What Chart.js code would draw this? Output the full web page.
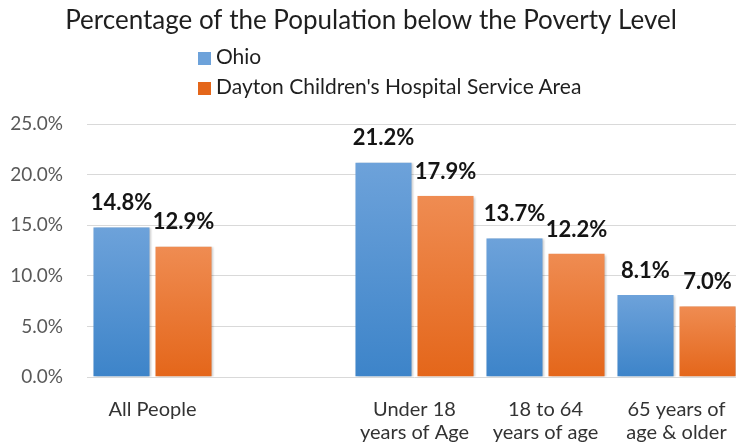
<!DOCTYPE html>
<html>
<head>
<meta charset="utf-8">
<script src="https://cdn.jsdelivr.net/npm/chart.js@4"></script>
<style>
  html, body { margin: 0; padding: 0; background: #fff; overflow: hidden; }
  #wrap { position: relative; width: 760px; height: 446px; }
  #legend { position: absolute; left: 198px; top: 45px; font: 21px Lato, sans-serif; color: #1f1f1f; }
  #legend div { height: 30px; line-height: 22px; white-space: nowrap; }
  #legend span { display: inline-block; width: 13px; height: 13px; margin-right: 5px; vertical-align: -1px; }
</style>
</head>
<body>
<div id="wrap">
  <canvas id="povertyChart" width="760" height="446"></canvas>
  <div id="legend"></div>
</div>
<script>
const categories = ["All People", "", ["Under 18", "years of Age"], ["18 to 64", "years of age"], ["65 years of", "age & older"]];
const seriesNames = ["Ohio", "Dayton Children's Hospital Service Area"];
const ohioValues = [14.8, null, 21.2, 13.7, 8.1];
const daytonValues = [12.9, null, 17.9, 12.2, 7.0];
const yTicks = [0, 5, 10, 15, 20, 25];

// top / bottom shades of each bar's gradient
const blueShades = ["#6da2da", "#3d84c9"];
const orangeShades = ["#ef8c52", "#e4661a"];

function barFill(shades) {
    return (ctx) => {
        const chart = ctx.chart;
        if (!chart.chartArea || !ctx.parsed || ctx.parsed.y == null) return shades[1];
        const y = chart.scales.y;
        const g = chart.ctx.createLinearGradient(0, y.getPixelForValue(ctx.parsed.y), 0, y.getPixelForValue(0));
        g.addColorStop(0, shades[0]);
        g.addColorStop(1, shades[1]);
        return g;
    };
}

// soft shadow behind the bars
const barShadow = {
    id: "barShadow",
    beforeDatasetsDraw(chart) {
        const c = chart.ctx;
        c.save();
        c.shadowColor = "rgba(0,0,0,0.28)";
        c.shadowBlur = 3;
        c.shadowOffsetX = 1.5;
        c.shadowOffsetY = 1;
    },
    afterDatasetsDraw(chart) {
        chart.ctx.restore();
    }
};

// value labels above each bar
const valueLabels = {
    id: "valueLabels",
    afterDatasetsDraw(chart) {
        const c = chart.ctx;
        c.save();
        c.font = "bold 22px Lato, sans-serif";
        c.fillStyle = "#141414";
        c.textAlign = "center";
        c.textBaseline = "alphabetic";
        chart.data.datasets.forEach((ds, i) => {
            chart.getDatasetMeta(i).data.forEach((el, j) => {
                const v = ds.data[j];
                if (v == null) return;
                c.fillText(v.toFixed(1) + "%", el.x, el.y - 17);
            });
        });
        c.restore();
    }
};

const chart = new Chart(document.getElementById("povertyChart"), {
    type: "bar",
    data: {
        labels: categories,
        datasets: [
            { label: seriesNames[0], data: ohioValues, backgroundColor: barFill(blueShades) },
            { label: seriesNames[1], data: daytonValues, backgroundColor: barFill(orangeShades) }
        ]
    },
    options: {
        responsive: false,
        animation: false,
        layout: { padding: { top: 0, right: 18, bottom: 0, left: 0 } },
        datasets: {
            bar: {
                categoryPercentage: 0.947,
                barPercentage: 1,
                borderWidth: { left: 3, right: 3, top: 0, bottom: 0 },
                borderColor: "rgba(0,0,0,0)",
                borderSkipped: false
            }
        },
        plugins: {
            legend: { display: false },
            tooltip: { enabled: false },
            title: {
                display: true,
                text: "Percentage of the Population below the Poverty Level",
                color: "#1f1f1f",
                font: { family: "Lato, sans-serif", size: 26, weight: "normal", lineHeight: 1.2 },
                padding: { top: 5, bottom: 87.8 }
            }
        },
        scales: {
            x: {
                grid: { display: false },
                border: { display: false },
                ticks: {
                    color: "#333333",
                    font: { family: "Lato, sans-serif", size: 20, lineHeight: 1.15 },
                    padding: 13,
                    maxRotation: 0,
                    autoSkip: false
                },
                afterFit(scale) { scale.height = 69; }
            },
            y: {
                min: 0,
                max: 25,
                afterBuildTicks(scale) { scale.ticks = yTicks.map(v => ({ value: v })); },
                grid: { color: "#d9d9d9", lineWidth: 1, drawTicks: false },
                border: { display: false },
                ticks: {
                    color: "#595959",
                    font: { family: "Lato, sans-serif", size: 19 },
                    padding: 24,
                    callback: v => v.toFixed(1) + "%"
                },
                afterFit(scale) { scale.width = 87; }
            }
        }
    },
    plugins: [barShadow, valueLabels]
});

// legend stacked in one column under the title
const legendEl = document.getElementById("legend");
chart.data.datasets.forEach((ds, i) => {
    const row = document.createElement("div");
    const box = document.createElement("span");
    box.style.background = i === 0 ? blueShades[0] : orangeShades[1];
    row.appendChild(box);
    row.appendChild(document.createTextNode(ds.label));
    legendEl.appendChild(row);
});
</script>
</body>
</html>
